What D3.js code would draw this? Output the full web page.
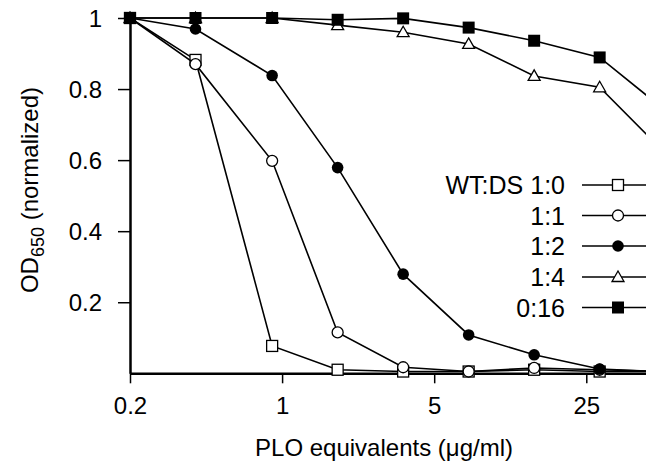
<!DOCTYPE html>
<html><head><meta charset="utf-8">
<script src="https://cdn.jsdelivr.net/npm/d3@7"></script>
<style>body{margin:0;background:#fff}svg{display:block}text{font-family:"Liberation Sans",Arial,sans-serif;fill:#000}</style>
</head><body><svg id="c" width="646" height="472"></svg>
<script>
const conc = [0.2, 0.4, 0.9, 1.8, 3.6, 7.2, 14.4, 28.8, 57.6];
const s10 = [1, 0.882, 0.077, 0.01, 0.005, 0.005, 0.01, 0.005, 0.005];
const s11 = [1, 0.87, 0.598, 0.115, 0.017, 0.005, 0.015, 0.01, 0.005];
const s12 = [1, 0.969, 0.838, 0.579, 0.279, 0.108, 0.052, 0.012, 0.004];
const s14 = [1, 1, 1, 0.98, 0.96, 0.927, 0.837, 0.805, 0.62];
const s016 = [1, 1, 1, 0.995, 0.999, 0.973, 0.936, 0.889, 0.74];
const seriesNames = ["WT:DS 1:0", "1:1", "1:2", "1:4", "0:16"];
const markers = ["squareOpen", "circleOpen", "circleFilled", "triangleOpen", "squareFilled"];
const xTicks = [0.2, 1, 5, 25];
const yTicks = [0.2, 0.4, 0.6, 0.8, 1];

const allSeries = [s10, s11, s12, s14, s016];
const svg = d3.select("#c");
const W = 646, H = 472;
const x0 = 130, y0 = 373.3, yTop = 18;
const pxPerDecade = 217.6;
const xMax = 0.2 * Math.pow(10, (W - x0) / pxPerDecade);
const x = d3.scaleLog().domain([0.2, xMax]).range([x0, W]);
const y = d3.scaleLinear().domain([0, 1]).range([y0, yTop]);

// axes
const xAxis = svg.append("g").attr("transform", `translate(0,${y0})`)
  .call(d3.axisBottom(x).tickValues(xTicks).tickFormat(d3.format("")).tickSizeInner(10).tickSizeOuter(0).tickPadding(14));
const yAxis = svg.append("g").attr("transform", `translate(${x0},0)`)
  .call(d3.axisLeft(y).tickValues(yTicks).tickFormat(d => d === 1 ? "1" : d3.format(".1f")(d)).tickSizeInner(12).tickSizeOuter(0).tickPadding(16));
[xAxis, yAxis].forEach(g => {
  g.select(".domain").attr("stroke", "#000").attr("stroke-width", 2.5);
  g.selectAll(".tick line").attr("stroke", "#000").attr("stroke-width", 1.5);
  g.selectAll(".tick text").attr("font-size", 24).attr("font-family", "Liberation Sans, Arial, sans-serif").attr("fill", "#000");
});
yAxis.selectAll(".tick text").attr("dy", "0.36em");

// axis titles
svg.append("text").attr("x", 384).attr("y", 456).attr("text-anchor", "middle").attr("font-size", 24)
  .text("PLO equivalents (\u03bcg/ml)");
const yl = svg.append("text").attr("transform", "translate(38,190) rotate(-90)").attr("text-anchor", "middle").attr("font-size", 24);
yl.append("tspan").text("OD");
yl.append("tspan").attr("font-size", 18).attr("dy", 6).text("650");
yl.append("tspan").attr("dy", -6).text(" (normalized)");

function drawMarker(g, type, cx, cy) {
  if (type === "squareOpen") g.append("rect").attr("x", cx - 5.5).attr("y", cy - 5.5).attr("width", 11).attr("height", 11).attr("fill", "#fff").attr("stroke", "#000").attr("stroke-width", 1.3);
  else if (type === "squareFilled") g.append("rect").attr("x", cx - 6).attr("y", cy - 6).attr("width", 12).attr("height", 12).attr("fill", "#000");
  else if (type === "circleOpen") g.append("circle").attr("cx", cx).attr("cy", cy).attr("r", 5.5).attr("fill", "#fff").attr("stroke", "#000").attr("stroke-width", 1.3);
  else if (type === "circleFilled") g.append("circle").attr("cx", cx).attr("cy", cy).attr("r", 5.8).attr("fill", "#000");
  else if (type === "triangleOpen") g.append("path").attr("d", `M${cx},${cy - 6}L${cx + 6},${cy + 4.5}L${cx - 6},${cy + 4.5}Z`).attr("fill", "#fff").attr("stroke", "#000").attr("stroke-width", 1.3);
}

const line = d3.line().x((d, i) => x(conc[i])).y(d => y(d));
allSeries.forEach((s, k) => {
  const g = svg.append("g");
  g.append("path").attr("d", line(s)).attr("fill", "none").attr("stroke", "#000").attr("stroke-width", 1.6);
  s.forEach((v, i) => drawMarker(g, markers[k], x(conc[i]), y(v)));
});

// legend
const legY = [185, 215.5, 246, 277, 307.5];
seriesNames.forEach((name, k) => {
  const g = svg.append("g");
  g.append("text").attr("x", 565).attr("y", legY[k]).attr("dy", "0.36em").attr("text-anchor", "end").attr("font-size", 25).text(name);
  g.append("line").attr("x1", 582).attr("x2", 656).attr("y1", legY[k]).attr("y2", legY[k]).attr("stroke", "#000").attr("stroke-width", 1.6);
  drawMarker(g, markers[k], 618, legY[k]);
});
</script></body></html>
